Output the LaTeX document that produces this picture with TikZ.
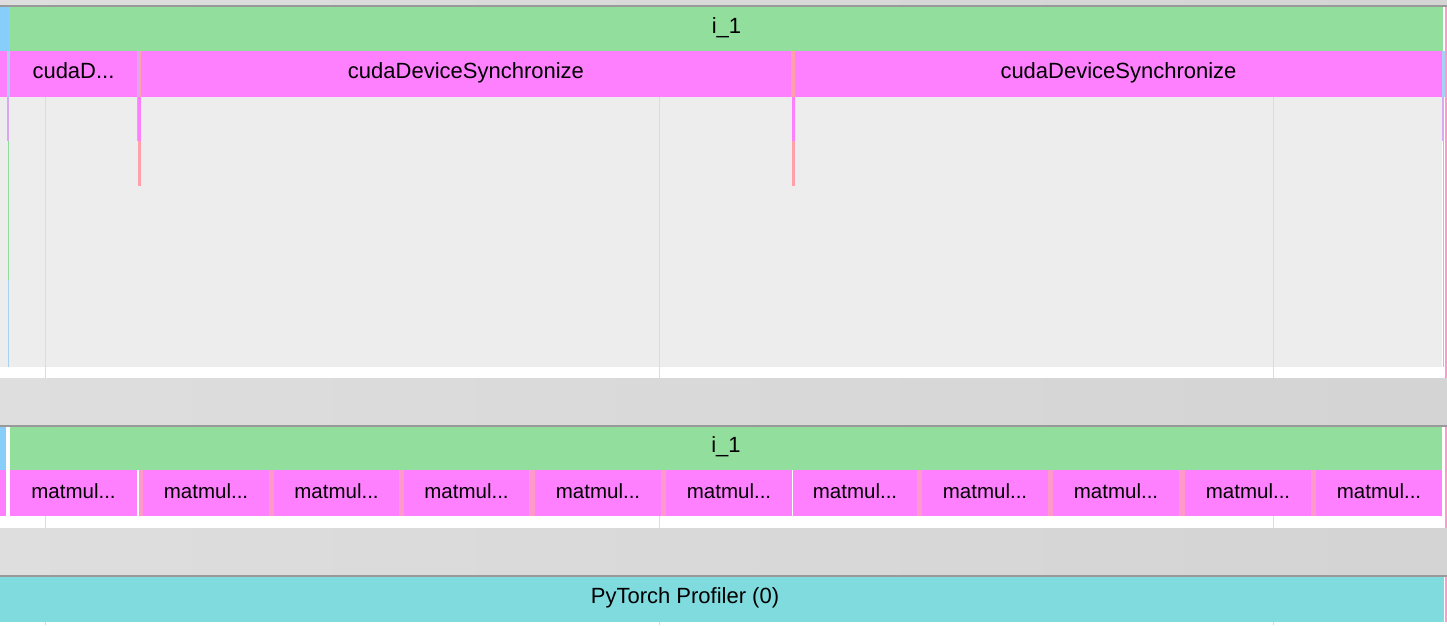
\documentclass[tikz,border=0pt]{standalone}
\usepackage{fontspec}
\setmainfont{Liberation Sans}
\definecolor{cgreen}{HTML}{92DF9D}
\definecolor{cmag}{HTML}{FF80FF}
\definecolor{cblue}{HTML}{87CEFA}
\definecolor{ccyan}{HTML}{80DBDF}
\definecolor{cpanel}{HTML}{EDEDED}
\definecolor{cgrid}{HTML}{DCDCDC}
\definecolor{cdark}{HTML}{999999}
\definecolor{csalmon}{HTML}{FFA0AA}
\definecolor{cpink}{HTML}{FF99CC}
\definecolor{clav}{HTML}{D8A8F0}
\definecolor{cltblue}{HTML}{A8D0F0}
\tikzset{
  slice/.style={inner sep=0pt, outer sep=0pt, anchor=north west, draw=none,
    font=\fontsize{22}{26}\selectfont, text=black, text height=14pt, text depth=6pt},
  mmslice/.style={slice, font=\fontsize{20.5}{24}\selectfont, text height=16pt, text depth=5pt},
}
\begin{document}
\begin{tikzpicture}[x=1pt,y=-1pt]
\useasboundingbox (0,0) rectangle (1447,625);
\fill[white] (0,0) rectangle (1447,625);
% top strip
\fill[left color=black!13, right color=black!17] (0,0) rectangle (1447,5);
\fill[cdark] (0,5) rectangle (1447,7);
% panel
\fill[cpanel] (0,97) rectangle (1442,367);
% grid lines
\foreach \gx in {45,659,1273} {
  \draw[cgrid, line width=1pt] (\gx,97) -- (\gx,378);
  \draw[cgrid, line width=1pt] (\gx,516) -- (\gx,528);
  \draw[cgrid, line width=1pt] (\gx,622) -- (\gx,625);
}
% top track row 1
\fill[cblue] (0,7) rectangle (10,51);
\node[slice, fill=cgreen, minimum width=1433pt, minimum height=44pt] (topi) at (10,7) {i\_1};
\fill[cpink] (1444.5,7) rectangle (1447,378);
% row 2
\fill[cmag] (0,51) rectangle (7,97);
\fill[cltblue] (7,51) rectangle (10,97);
\node[slice, fill=cmag, minimum width=127pt, minimum height=46pt] (cs0) at (10,51) {cudaD...};
\fill[clav] (137,51) rectangle (138.5,97);
\fill[csalmon] (138.5,51) rectangle (141,97);
\node[slice, fill=cmag, minimum width=650pt, minimum height=46pt] (cs1) at (141,51) {cudaDeviceSynchronize};
\fill[csalmon] (791,51) rectangle (795,97);
\node[slice, fill=cmag, minimum width=647pt, minimum height=46pt] (cs2) at (795,51) {cudaDeviceSynchronize};
\fill[cltblue] (1442,51) rectangle (1444.5,97);
% small nested stripes
\fill[clav] (7,97) rectangle (9,141);
\fill[cgreen] (7.5,141) rectangle (9,280);
\fill[cltblue] (7.5,280) rectangle (9,367);
\fill[clav] (136.5,97) rectangle (138,141);
\fill[cmag] (138,97) rectangle (141,141);
\fill[csalmon] (138,141) rectangle (141,186);
\fill[cmag] (792,97) rectangle (795,141);
\fill[csalmon] (792,141) rectangle (795,186);
\fill[clav] (1442,97) rectangle (1444,141);
\fill[cgreen] (1442.5,141) rectangle (1444,367);
% separator 1
\fill[left color=black!13, right color=black!17] (0,378) rectangle (1447,425);
\fill[cdark] (0,425) rectangle (1447,427);
% bottom track
\fill[cblue] (0,427) rectangle (6,470);
\node[slice, fill=cgreen, minimum width=1432pt, minimum height=43pt] (boti) at (10,427) {i\_1};
\fill[cmag] (0,470) rectangle (6,516);
\foreach \a/\b [count=\i] in {10/137,143/269,274/399,404/529,535/661,666/792,793/917,922/1048,1053/1179,1185/1311,1316/1442} {
  \node[mmslice, fill=cmag, minimum width={(\b-\a)*1pt}, minimum height=46pt] (m\i) at (\a,470) {matmul...};
}
\foreach \a/\b in {139/143,269/274,399/404,529/535,661/666,917/922,1048/1053,1179/1185,1311/1316} {
  \fill[cpink] (\a,470) rectangle (\b,516);
}
\fill[cpink] (1444.5,427) rectangle (1447,528);
% separator 2
\fill[left color=black!13, right color=black!17] (0,528) rectangle (1447,575);
\fill[cdark] (0,575) rectangle (1447,577);
% profiler row
\node[slice, fill=ccyan, minimum width=1444pt, minimum height=45pt] (prof) at (0,577) {};
\fill[cpink] (1444.5,577) rectangle (1447,622);
\node[slice, anchor=center] (proflabel) at (685,599) {PyTorch Profiler (0)};
\end{tikzpicture}
\end{document}
